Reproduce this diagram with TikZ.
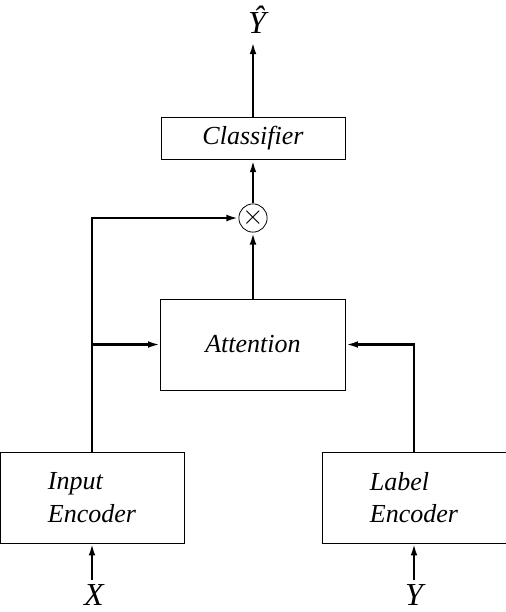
\documentclass[tikz,border=0pt]{standalone}
\usepackage{fontspec}
\setmainfont{Liberation Serif}
\usetikzlibrary{
    arrows.meta,
    positioning,
    calc
}

\begin{document}
\begin{tikzpicture}[
            x=0.75pt, y=-0.75pt,
            block/.style={draw, line width=0.6pt, inner sep=0pt, font=\fontsize{19.5}{24.5}\selectfont\itshape, minimum width=138pt, minimum height=68.25pt},
            arr/.style={-{Latex[length=9pt,width=5pt]}, line width=1.7pt},
            lbl/.style={font=\fontsize{24}{28}\selectfont\itshape, inner sep=0pt},
        ]
            \useasboundingbox (0,0) rectangle (506,612);

            % ====== Blocks ======
            \node[block, minimum height=32pt] (classifier) at (253,138.5) {Classifier};

            \node[draw, circle, line width=0.6pt, minimum size=16pt, inner sep=0pt]
                (mult) at (253,218)
                {\fontsize{20}{20}\selectfont$\times$};

            \node[block, minimum width=138.75pt] (attention) at (253,344.5) {Attention};

            \node[block, align=left] (inenc) at (92,497.5) {Input\\Encoder};

            \node[block, align=left] (labenc) at (414,497.5) {Label\\Encoder};

            % ====== Inputs and output ======
            \node[lbl, anchor=base] (yhat) at (257,33) {Ŷ};
            \node[lbl, anchor=base] (xin) at (94,605) {X};
            \node[lbl, anchor=base] (yin) at (414,605) {Y};

            % ====== Arrows ======
            \draw[arr] (classifier.north) -- (classifier.north |- 0,42);
            \draw[arr] (mult.north) -- (classifier.south);
            \draw[arr] (attention.north) -- (mult.south);

            \draw[arr]
                (inenc.north) -- (inenc.north |- mult.west) -- (mult.west);
            \draw[arr]
                (inenc.north |- attention.west) -- (attention.west);
            \draw[arr]
                (labenc.north) |- (attention.east);

            \draw[arr] (inenc.south |- 0,580) -- (inenc.south);
            \draw[arr] (labenc.south |- 0,580) -- (labenc.south);
        \end{tikzpicture}
\end{document}
